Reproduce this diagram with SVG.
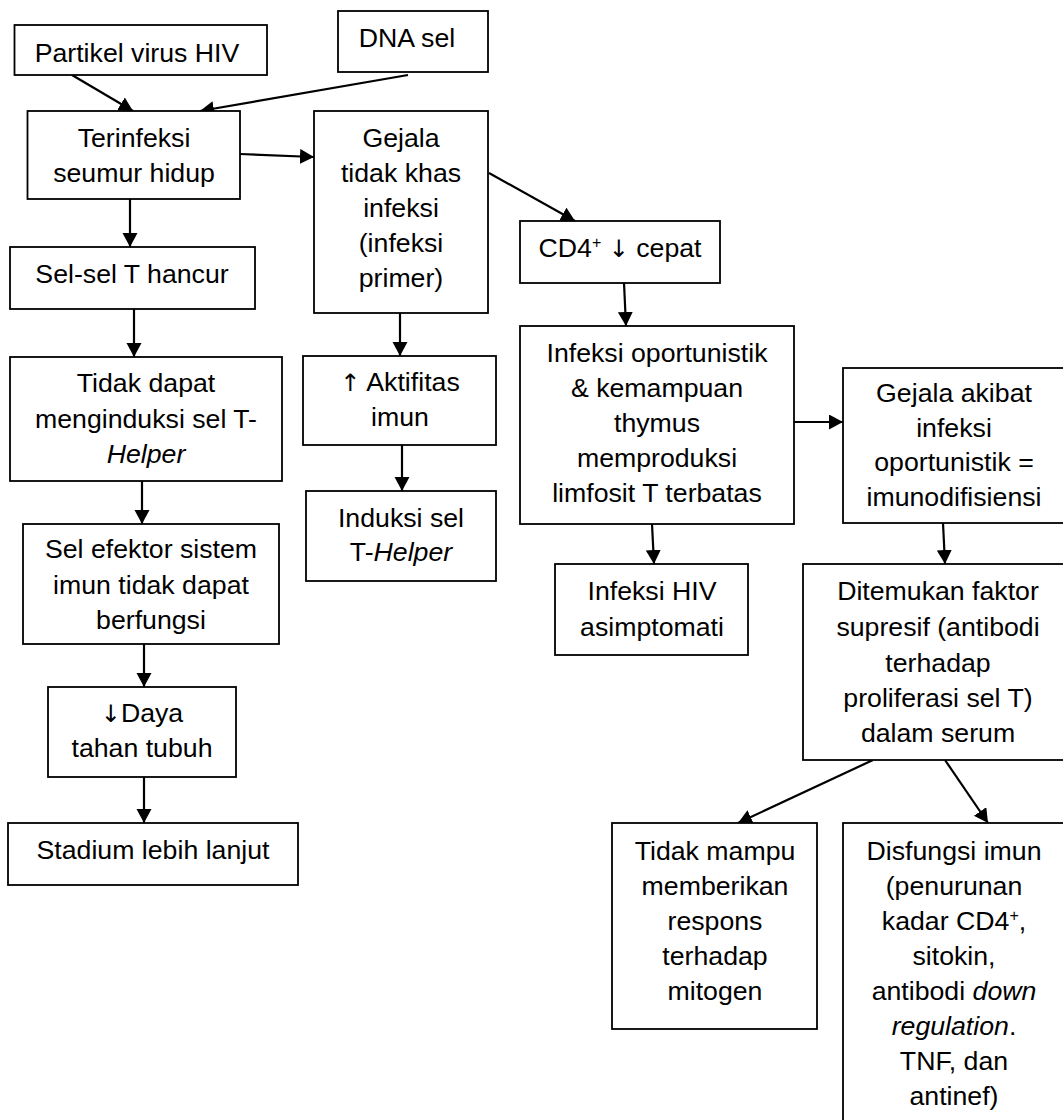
<svg xmlns="http://www.w3.org/2000/svg" width="1063" height="1120" viewBox="0 0 1063 1120">
<defs>
<style>
.box{fill:#fff;stroke:#000;stroke-width:1.8}
.t{font-family:"Liberation Sans","DejaVu Sans",Arial,sans-serif;font-size:26.7px;fill:#000;text-anchor:middle}
.ar{font-family:"DejaVu Sans",sans-serif;font-size:24px}
.i{font-style:italic}
.sup{font-size:16px}
.c{stroke:#000;stroke-width:2.2;fill:none;marker-end:url(#ah)}
</style>
<marker id="ah" markerUnits="userSpaceOnUse" markerWidth="16" markerHeight="16" refX="14" refY="7.5" orient="auto">
<path d="M0,0 L14,7.5 L0,15 z" fill="#000"/>
</marker>
</defs>
<rect width="1063" height="1120" fill="#fff"/>
<g id="connectors">
<line class="c" x1="72" y1="75" x2="133" y2="111"/>
<line class="c" x1="408" y1="75" x2="200" y2="111"/>
<line class="c" x1="240" y1="154" x2="314" y2="157"/>
<line class="c" x1="130" y1="199" x2="130" y2="247"/>
<line class="c" x1="134" y1="309" x2="134" y2="357"/>
<line class="c" x1="489" y1="173" x2="575" y2="221"/>
<line class="c" x1="400" y1="313" x2="400" y2="356"/>
<line class="c" x1="402" y1="445" x2="402" y2="491"/>
<line class="c" x1="142" y1="481" x2="142" y2="524"/>
<line class="c" x1="144" y1="644" x2="144" y2="687"/>
<line class="c" x1="144" y1="777" x2="144" y2="823"/>
<line class="c" x1="624" y1="283" x2="626" y2="326"/>
<line class="c" x1="794" y1="422" x2="843" y2="422"/>
<line class="c" x1="652" y1="524" x2="654" y2="564"/>
<line class="c" x1="943" y1="523" x2="945" y2="564"/>
<line class="c" x1="873" y1="760" x2="738" y2="823"/>
<line class="c" x1="945" y1="760" x2="988" y2="823"/>
</g>
<g id="n-partikel"><rect class="box" x="14.5" y="25" width="252.5" height="50"/><text class="t" x="137" y="62">Partikel virus HIV</text></g>
<g id="n-dna"><rect class="box" x="338" y="11" width="150" height="61"/><text class="t" x="407" y="47">DNA sel</text></g>
<g id="n-terinfeksi"><rect class="box" x="27.5" y="111" width="212.5" height="88"/><text class="t"><tspan x="134" y="147">Terinfeksi</tspan><tspan x="134" y="182">seumur hidup</tspan></text></g>
<g id="n-gejala"><rect class="box" x="314" y="111" width="174" height="202"/><text class="t"><tspan x="401" y="147">Gejala</tspan><tspan x="401" y="182">tidak khas</tspan><tspan x="401" y="217">infeksi</tspan><tspan x="401" y="252">(infeksi</tspan><tspan x="401" y="287">primer)</tspan></text></g>
<g id="n-selsel"><rect class="box" x="10" y="247" width="245" height="62"/><text class="t" x="132" y="283">Sel-sel T hancur</text></g>
<g id="n-cd4"><rect class="box" x="520" y="221" width="200" height="62"/><text class="t" x="620" y="257">CD4<tspan class="sup" dy="-9">+</tspan><tspan dy="9"> </tspan><tspan class="ar">↓</tspan> cepat</text></g>
<g id="n-oportunistik"><rect class="box" x="520" y="326" width="274" height="198"/><text class="t"><tspan x="657" y="362">Infeksi oportunistik</tspan><tspan x="657" y="397">&amp; kemampuan</tspan><tspan x="657" y="432">thymus</tspan><tspan x="657" y="467">memproduksi</tspan><tspan x="657" y="502">limfosit T terbatas</tspan></text></g>
<g id="n-akibat"><rect class="box" x="843" y="368" width="240" height="155"/><text class="t"><tspan x="954" y="402">Gejala akibat</tspan><tspan x="954" y="436.5">infeksi</tspan><tspan x="954" y="471">oportunistik =</tspan><tspan x="954" y="505.5">imunodifisiensi</tspan></text></g>
<g id="n-tidakdapat"><rect class="box" x="10" y="357" width="272" height="124"/><text class="t"><tspan x="146" y="392">Tidak dapat</tspan><tspan x="146" y="428">menginduksi sel T-</tspan><tspan class="i" x="146" y="463">Helper</tspan></text></g>
<g id="n-aktifitas"><rect class="box" x="303" y="356" width="193" height="89"/><text class="t"><tspan x="400" y="391"><tspan class="ar">↑</tspan> Aktifitas</tspan><tspan x="400" y="426">imun</tspan></text></g>
<g id="n-induksi"><rect class="box" x="306" y="491" width="190" height="90"/><text class="t"><tspan x="401" y="527">Induksi sel</tspan><tspan x="401" y="561">T-<tspan class="i">Helper</tspan></tspan></text></g>
<g id="n-efektor"><rect class="box" x="23" y="524" width="256" height="120"/><text class="t"><tspan x="151" y="558">Sel efektor sistem</tspan><tspan x="151" y="594">imun tidak dapat</tspan><tspan x="151" y="629">berfungsi</tspan></text></g>
<g id="n-daya"><rect class="box" x="48" y="687" width="188" height="90"/><text class="t"><tspan x="142" y="722"><tspan class="ar">↓</tspan>Daya</tspan><tspan x="142" y="757">tahan tubuh</tspan></text></g>
<g id="n-stadium"><rect class="box" x="8" y="823" width="290" height="62"/><text class="t" x="153" y="859">Stadium lebih lanjut</text></g>
<g id="n-asimptomati"><rect class="box" x="555" y="564" width="193" height="91"/><text class="t"><tspan x="652" y="600">Infeksi HIV</tspan><tspan x="652" y="636">asimptomati</tspan></text></g>
<g id="n-ditemukan"><rect class="box" x="803" y="564" width="270" height="196"/><text class="t"><tspan x="938" y="600">Ditemukan faktor</tspan><tspan x="938" y="636">supresif (antibodi</tspan><tspan x="938" y="672">terhadap</tspan><tspan x="938" y="707">proliferasi sel T)</tspan><tspan x="938" y="742">dalam serum</tspan></text></g>
<g id="n-tidakmampu"><rect class="box" x="612" y="823" width="205" height="206"/><text class="t"><tspan x="715" y="860">Tidak mampu</tspan><tspan x="715" y="895">memberikan</tspan><tspan x="715" y="930">respons</tspan><tspan x="715" y="965">terhadap</tspan><tspan x="715" y="1000">mitogen</tspan></text></g>
<g id="n-disfungsi"><rect class="box" x="843" y="823" width="240" height="310"/><text class="t"><tspan x="954" y="860">Disfungsi imun</tspan><tspan x="954" y="895">(penurunan</tspan><tspan x="954" y="930">kadar CD4<tspan class="sup" dy="-9">+</tspan><tspan dy="9">,</tspan></tspan><tspan x="954" y="965">sitokin,</tspan><tspan x="954" y="1000">antibodi <tspan class="i">down</tspan></tspan><tspan x="954" y="1035"><tspan class="i">regulation</tspan>.</tspan><tspan x="954" y="1070">TNF, dan</tspan><tspan x="954" y="1105">antinef)</tspan></text></g>
</svg>
